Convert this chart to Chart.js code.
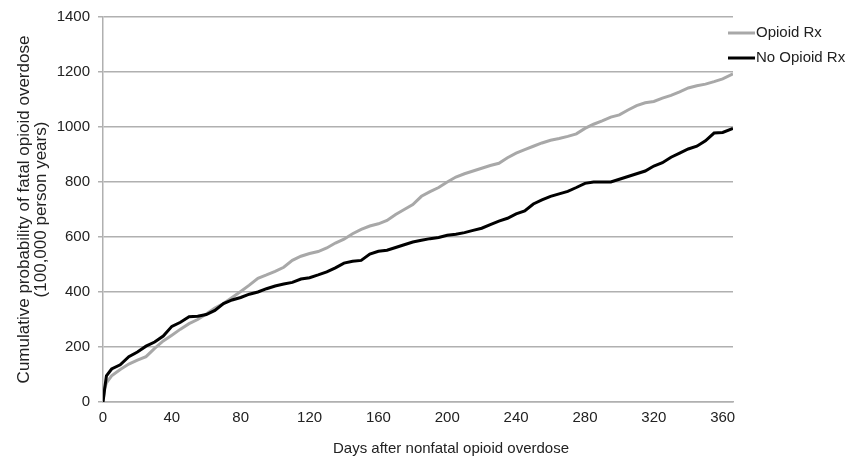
<!DOCTYPE html>
<html>
<head>
<meta charset="utf-8">
<script src="https://cdn.jsdelivr.net/npm/chart.js@4"></script>
<style>
  html, body { margin: 0; padding: 0; background: #fff; }
  #wrap { width: 849px; height: 464px; }
</style>
</head>
<body>
<div id="wrap"><canvas id="myChart" width="849" height="464"></canvas></div>
<script>
// days after overdose (x values shared by both series)
const days = [0, 1, 2, 5, 10, 15, 20, 25, 30, 35, 40, 45, 50, 55, 60, 65, 70, 75, 80, 85, 90, 95,
  100, 105, 110, 115, 120, 125, 130, 135, 140, 145, 150, 155, 160, 165, 170, 175, 180, 185, 190, 195,
  200, 205, 210, 215, 220, 225, 230, 235, 240, 245, 250, 255, 260, 265, 270, 275, 280, 285, 290, 295,
  300, 305, 310, 315, 320, 325, 330, 335, 340, 345, 350, 355, 360, 366];

const opioidRx = [0, 50, 70, 95, 118, 138, 152, 165, 195, 222, 243, 265, 285, 300, 320, 342, 358, 380, 402, 425, 450, 462,
  475, 490, 515, 530, 540, 547, 560, 578, 592, 612, 628, 640, 648, 660, 682, 700, 718, 748, 765, 780,
  800, 818, 830, 840, 850, 860, 868, 888, 905, 918, 930, 942, 952, 958, 966, 975, 995, 1010, 1022, 1036,
  1044, 1062, 1078, 1088, 1093, 1105, 1115, 1128, 1142, 1150, 1156, 1165, 1175, 1193];

const noOpioidRx = [0, 50, 95, 120, 135, 165, 182, 203, 218, 240, 275, 290, 310, 312, 318, 333, 358, 371, 380, 392, 400, 412,
  422, 429, 435, 447, 452, 462, 473, 488, 505, 512, 515, 538, 548, 552, 562, 572, 582, 588, 594, 598,
  606, 610, 616, 624, 632, 645, 658, 668, 684, 695, 720, 735, 748, 757, 766, 780, 795, 800, 800, 800,
  810, 820, 830, 840, 858, 870, 890, 905, 920, 930, 950, 978, 980, 995];

const xTicks = [0, 40, 80, 120, 160, 200, 240, 280, 320, 360];

const seriesNames = ['Opioid Rx', 'No Opioid Rx'];
const seriesColors = ['#a8a8a8', '#000000'];

const yTitle = ['Cumulative probability of fatal opioid overdose', '(100,000 person years)'];
const xTitle = 'Days after nonfatal opioid overdose';

const family = '"Liberation Sans", Arial, sans-serif';
const font = { family: family, size: 15 };
const textColor = '#222';

function points(vals) {
  return days.map((d, i) => ({ x: d, y: vals[i] }));
}

// legend and x title drawn by hand so they sit where the original has them
const extras = {
  id: 'extras',
  afterDraw(chart) {
    const ctx = chart.ctx;
    ctx.save();
    ctx.font = font.size + 'px ' + family;
    ctx.textBaseline = 'middle';
    chart.data.datasets.forEach((ds, i) => {
      const y = 33 + i * 25;
      ctx.strokeStyle = ds.borderColor;
      ctx.lineWidth = 3;
      ctx.beginPath();
      ctx.moveTo(728, y);
      ctx.lineTo(755, y);
      ctx.stroke();
      ctx.fillStyle = textColor;
      ctx.fillText(ds.label, 756, y);
    });
    ctx.textAlign = 'center';
    ctx.fillText(xTitle, 451, 449);
    ctx.restore();
  }
};

new Chart(document.getElementById('myChart'), {
  type: 'line',
  data: {
    datasets: [{
      label: seriesNames[0],
      data: points(opioidRx),
      borderColor: seriesColors[0],
      borderWidth: 3,
      pointRadius: 0,
      order: 1,
    }, {
      label: seriesNames[1],
      data: points(noOpioidRx),
      borderColor: seriesColors[1],
      borderWidth: 3,
      pointRadius: 0,
      order: 0,
    }]
  },
  options: {
    responsive: false,
    animation: false,
    layout: { padding: { top: 15, right: 116, left: 0, bottom: 0 } },
    plugins: { legend: { display: false }, tooltip: { enabled: false } },
    scales: {
      x: {
        type: 'linear',
        min: 0,
        max: 366,
        grid: { display: false, drawTicks: false },
        border: { display: true, color: '#b0b0b0', width: 1.5 },
        ticks: { padding: 7, color: textColor, font: font, maxRotation: 0, autoSkip: false },
        afterBuildTicks(axis) { axis.ticks = xTicks.map(v => ({ value: v })); },
        afterFit(axis) { axis.height = 62; }
      },
      y: {
        min: 0,
        max: 1400,
        grid: { color: '#b0b0b0', lineWidth: 1.5, tickLength: 5 },
        border: { display: true, color: '#b0b0b0', width: 1.5 },
        ticks: { stepSize: 200, padding: 8, color: textColor, font: font, callback: v => String(v) },
        afterFit(axis) { axis.width = 103; },
        title: { display: true, text: yTitle, color: textColor,
          font: { family: family, size: 17, lineHeight: 1 }, padding: { top: 16, bottom: 0 } }
      }
    }
  },
  plugins: [extras]
});
</script>
</body>
</html>
